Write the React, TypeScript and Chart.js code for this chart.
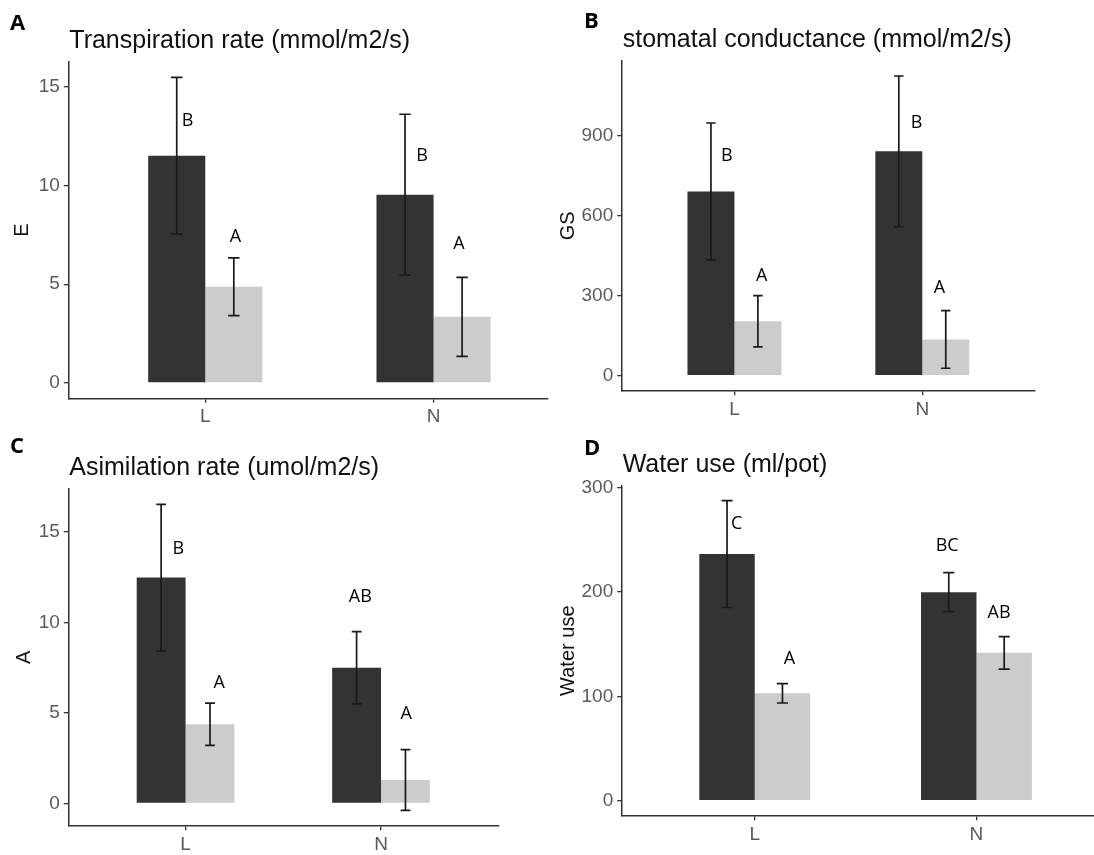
import React, { useEffect, useRef } from "react";
import { Chart, registerables } from "chart.js";

Chart.register(...registerables);

// ---------- shared ----------
const categories = ["L", "N"];

// ---------- Panel A: Transpiration rate ----------
const transpDark = [11.5, 9.53];
const transpDarkSe = [3.97, 4.07];
const transpLight = [4.87, 3.35];
const transpLightSe = [1.46, 2.0];
const transpLettersDark = ["B", "B"];
const transpLettersLight = ["A", "A"];
const transpLetterXDark = [0.922, 1.95];
const transpLetterYDark = [13.28, 11.47];
const transpLetterXLight = [1.132, 2.111];
const transpLetterYLight = [7.4, 7.06];
const transpTicks = [0, 5, 10, 15];

// ---------- Panel B: stomatal conductance ----------
const gsDark = [690, 840];
const gsDarkSe = [256, 282];
const gsLight = [204, 136];
const gsLightSe = [96, 108];
const gsLettersDark = ["B", "B"];
const gsLettersLight = ["A", "A"];
const gsLetterXDark = [0.959, 1.97];
const gsLetterYDark = [823, 947];
const gsLetterXLight = [1.145, 2.091];
const gsLetterYLight = [372, 328];
const gsTicks = [0, 300, 600, 900];

// ---------- Panel C: Asimilation rate ----------
const asimDark = [12.48, 7.5];
const asimDarkSe = [4.05, 2.0];
const asimLight = [4.38, 1.3];
const asimLightSe = [1.17, 1.68];
const asimLettersDark = ["B", "AB"];
const asimLettersLight = ["A", "A"];
const asimLetterXDark = [0.963, 1.894];
const asimLetterYDark = [14.06, 11.44];
const asimLetterXLight = [1.172, 2.129];
const asimLetterYLight = [6.65, 4.96];
const asimTicks = [0, 5, 10, 15];

// ---------- Panel D: Water use ----------
const waterDark = [236.5, 200];
const waterDarkSe = [51.2, 18.7];
const waterLight = [103, 141.8];
const waterLightSe = [9.3, 15.6];
const waterLettersDark = ["C", "BC"];
const waterLettersLight = ["A", "AB"];
const waterLetterXDark = [0.919, 1.868];
const waterLetterYDark = [265.9, 244.2];
const waterLetterXLight = [1.156, 2.102];
const waterLetterYLight = [136.2, 180.3];
const waterTicks = [0, 100, 200, 300];

// ---------- styles ----------
const SANS = "'Liberation Sans', Arial, sans-serif";
const LABEL_FONT = "'Open Sans', 'Noto Sans', sans-serif";
const DARK = "#333333";
const LIGHT = "#cccccc";
const AXIS = "#333333";
const TICK_TEXT = "#5a5a5a";

type Panel = {
  tag: string;
  title: string;
  yTitle: string;
  dark: number[];
  darkSe: number[];
  light: number[];
  lightSe: number[];
  lettersDark: string[];
  lettersLight: string[];
  letterXDark: number[];
  letterYDark: number[];
  letterXLight: number[];
  letterYLight: number[];
  ticks: number[];
  xMax: number;
  box: { left: number; top: number; width: number; height: number };
  padTop: number;
  padRight: number;
  yAxisWidth: number;
  xAxisHeight: number;
  yTitlePad: number;
  tagX: number;
  tagY: number;
};

const panels: Panel[] = [
  {
    tag: "A",
    title: "Transpiration rate (mmol/m2/s)",
    yTitle: "E",
    dark: transpDark,
    darkSe: transpDarkSe,
    light: transpLight,
    lightSe: transpLightSe,
    lettersDark: transpLettersDark,
    lettersLight: transpLettersLight,
    letterXDark: transpLetterXDark,
    letterYDark: transpLetterYDark,
    letterXLight: transpLetterXLight,
    letterYLight: transpLetterYLight,
    ticks: transpTicks,
    xMax: 2.5,
    box: { left: 0, top: 0, width: 549, height: 430 },
    padTop: 62,
    padRight: 1.3,
    yAxisWidth: 68.3,
    xAxisHeight: 31.7,
    yTitlePad: 10.8,
    tagX: 10,
    tagY: 22.5,
  },
  {
    tag: "B",
    title: "stomatal conductance (mmol/m2/s)",
    yTitle: "GS",
    dark: gsDark,
    darkSe: gsDarkSe,
    light: gsLight,
    lightSe: gsLightSe,
    lettersDark: gsLettersDark,
    lettersLight: gsLettersLight,
    letterXDark: gsLetterXDark,
    letterYDark: gsLetterYDark,
    letterXLight: gsLetterXLight,
    letterYLight: gsLetterYLight,
    ticks: gsTicks,
    xMax: 2.6,
    box: { left: 549, top: 0, width: 545, height: 430 },
    padTop: 61,
    padRight: 59,
    yAxisWidth: 72.7,
    xAxisHeight: 39.3,
    yTitlePad: 7,
    tagX: 35,
    tagY: 20,
  },
  {
    tag: "C",
    title: "Asimilation rate (umol/m2/s)",
    yTitle: "A",
    dark: asimDark,
    darkSe: asimDarkSe,
    light: asimLight,
    lightSe: asimLightSe,
    lettersDark: asimLettersDark,
    lettersLight: asimLettersLight,
    letterXDark: asimLetterXDark,
    letterYDark: asimLetterYDark,
    letterXLight: asimLetterXLight,
    letterYLight: asimLetterYLight,
    ticks: asimTicks,
    xMax: 2.6,
    box: { left: 0, top: 430, width: 549, height: 425 },
    padTop: 59,
    padRight: 50.7,
    yAxisWidth: 68.3,
    xAxisHeight: 29.3,
    yTitlePad: 12,
    tagX: 10,
    tagY: 15,
  },
  {
    tag: "D",
    title: "Water use (ml/pot)",
    yTitle: "Water use",
    dark: waterDark,
    darkSe: waterDarkSe,
    light: waterLight,
    lightSe: waterLightSe,
    lettersDark: waterLettersDark,
    lettersLight: waterLettersLight,
    letterXDark: waterLetterXDark,
    letterYDark: waterLetterYDark,
    letterXLight: waterLetterXLight,
    letterYLight: waterLetterYLight,
    ticks: waterTicks,
    xMax: 2.53,
    box: { left: 549, top: 430, width: 545, height: 425 },
    padTop: 55.7,
    padRight: 0,
    yAxisWidth: 72.7,
    xAxisHeight: 39.3,
    yTitlePad: 7.2,
    tagX: 35,
    tagY: 16.7,
  },
];

function makeAnnotations(p: Panel) {
  return {
    id: "annot" + p.tag,
    afterDatasetsDraw(chart: any) {
      const { ctx, scales } = chart;
      const x = scales.x;
      const y = scales.y;
      const capHalf = Math.abs(x.getPixelForValue(1.025) - x.getPixelForValue(1));
      const series = [
        { mean: p.dark, se: p.darkSe, idx: 0 },
        { mean: p.light, se: p.lightSe, idx: 1 },
      ];
      ctx.save();
      ctx.strokeStyle = "#1a1a1a";
      ctx.lineWidth = 1.7;
      series.forEach((s) => {
        const meta = chart.getDatasetMeta(s.idx);
        s.mean.forEach((m, i) => {
          const bar = meta.data[i];
          const cx = bar.x;
          const yHi = y.getPixelForValue(m + s.se[i]);
          const yLo = y.getPixelForValue(m - s.se[i]);
          ctx.beginPath();
          ctx.moveTo(cx, yHi);
          ctx.lineTo(cx, yLo);
          ctx.moveTo(cx - capHalf, yHi);
          ctx.lineTo(cx + capHalf, yHi);
          ctx.moveTo(cx - capHalf, yLo);
          ctx.lineTo(cx + capHalf, yLo);
          ctx.stroke();
        });
      });
      // significance letters
      ctx.fillStyle = "#000";
      ctx.font = `18px ${LABEL_FONT}`;
      ctx.textAlign = "center";
      ctx.textBaseline = "middle";
      const groups = [
        { txt: p.lettersDark, xs: p.letterXDark, ys: p.letterYDark },
        { txt: p.lettersLight, xs: p.letterXLight, ys: p.letterYLight },
      ];
      groups.forEach((g) => {
        g.txt.forEach((t, i) => {
          ctx.fillText(t, x.getPixelForValue(g.xs[i]), y.getPixelForValue(g.ys[i]));
        });
      });
      ctx.restore();
    },
    afterDraw(chart: any) {
      const { ctx, chartArea } = chart;
      ctx.save();
      ctx.fillStyle = "#111";
      ctx.textAlign = "left";
      ctx.textBaseline = "alphabetic";
      ctx.font = `25px ${SANS}`;
      ctx.fillText(p.title, chartArea.left + 1, chartArea.top - 14);
      ctx.fillStyle = "#000";
      ctx.font = `bold 22px ${LABEL_FONT}`;
      ctx.fillText(p.tag, p.tagX, p.tagY + 7.8);
      ctx.restore();
    },
  };
}

function PanelChart({ p }: { p: Panel }) {
  const ref = useRef<HTMLCanvasElement | null>(null);
  useEffect(() => {
    if (!ref.current) return;
    const allHi = [
      ...p.dark.map((m, i) => m + p.darkSe[i]),
      ...p.light.map((m, i) => m + p.lightSe[i]),
    ];
    const allLo = [
      ...p.dark.map((m, i) => m - p.darkSe[i]),
      ...p.light.map((m, i) => m - p.lightSe[i]),
    ];
    const lo = Math.min(0, ...allLo);
    const hi = Math.max(0, ...allHi);
    const expand = 0.05 * (hi - lo);

    const tickFont = { family: SANS, size: 19 };
    const gridOpts = {
      display: true,
      drawOnChartArea: false,
      drawTicks: true,
      tickLength: 4.5,
      color: AXIS,
      lineWidth: 1.3,
      offset: false,
    };
    const borderOpts = { display: true, color: AXIS, width: 1.5 };

    const chart = new Chart(ref.current, {
      type: "bar",
      data: {
        datasets: [
          {
            label: "dark",
            data: categories.map((_, i) => ({ x: i + 1, y: p.dark[i] })),
            backgroundColor: DARK,
            borderWidth: 0,
            categoryPercentage: 0.5,
            barPercentage: 1,
          },
          {
            label: "light",
            data: categories.map((_, i) => ({ x: i + 1, y: p.light[i] })),
            backgroundColor: LIGHT,
            borderWidth: 0,
            categoryPercentage: 0.5,
            barPercentage: 1,
          },
        ],
      } as any,
      options: {
        responsive: false,
        animation: false,
        events: [],
        layout: { padding: { left: 0, top: p.padTop, right: p.padRight, bottom: 0 } },
        plugins: {
          legend: { display: false },
          tooltip: { enabled: false },
          title: { display: false },
        },
        scales: {
          x: {
            type: "linear",
            min: 0.4,
            max: p.xMax,
            offset: false,
            afterBuildTicks: (s: any) => {
              s.ticks = categories.map((_, i) => ({ value: i + 1 }));
            },
            afterFit: (s: any) => {
              s.height = p.xAxisHeight;
            },
            ticks: {
              autoSkip: false,
              maxRotation: 0,
              minRotation: 0,
              padding: 3,
              font: tickFont,
              color: TICK_TEXT,
              callback: (v: any) => categories[Math.round(Number(v)) - 1] ?? "",
            },
            grid: gridOpts,
            border: borderOpts,
          },
          y: {
            type: "linear",
            min: lo - expand,
            max: hi + expand,
            afterBuildTicks: (s: any) => {
              s.ticks = p.ticks.map((v) => ({ value: v }));
            },
            afterFit: (s: any) => {
              s.width = p.yAxisWidth;
            },
            ticks: {
              padding: 4,
              font: tickFont,
              color: TICK_TEXT,
              callback: (v: any) => String(v),
            },
            title: {
              display: true,
              text: p.yTitle,
              color: "#111",
              font: { family: SANS, size: 20 },
              padding: { top: p.yTitlePad, bottom: 0 },
            },
            grid: gridOpts,
            border: borderOpts,
          },
        },
      } as any,
      plugins: [makeAnnotations(p)],
    });
    return () => chart.destroy();
  }, [p]);

  return (
    <canvas
      ref={ref}
      width={p.box.width}
      height={p.box.height}
      style={{
        position: "absolute",
        left: p.box.left,
        top: p.box.top,
        width: p.box.width,
        height: p.box.height,
      }}
    />
  );
}

export default function App() {
  return (
    <div
      style={{
        position: "absolute",
        left: 0,
        top: 0,
        width: 1094,
        height: 855,
        background: "#ffffff",
        overflow: "hidden",
      }}
    >
      {panels.map((p) => (
        <PanelChart key={p.tag} p={p} />
      ))}
    </div>
  );
}
